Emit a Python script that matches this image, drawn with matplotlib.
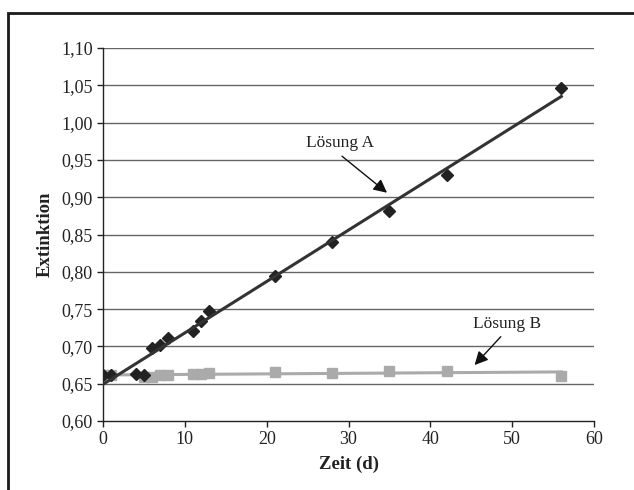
import numpy as np
import matplotlib.pyplot as plt
from matplotlib.patches import Rectangle

plt.rcParams['font.family'] = ['Liberation Serif', 'DejaVu Serif']

# Lösung A (diamonds)
zeit_a = [0, 1, 4, 5, 6, 7, 8, 11, 12, 13, 21, 28, 35, 42, 56]
ext_a = [0.662, 0.662, 0.663, 0.662, 0.698, 0.702, 0.711, 0.720, 0.734, 0.747,
         0.794, 0.840, 0.882, 0.930, 1.047]

# Lösung B (squares)
zeit_b = [0, 1, 5, 6, 7, 8, 11, 12, 13, 21, 28, 35, 42, 56]
ext_b = [0.662, 0.662, 0.659, 0.659, 0.662, 0.662, 0.663, 0.663, 0.664,
         0.666, 0.665, 0.667, 0.667, 0.661]

fig = plt.figure(figsize=(6.34, 4.9), dpi=100)
ax = fig.add_axes([0.1625, 0.1408, 0.7745, 0.7612])

# outer frame
fig.patches.append(Rectangle((8 / 634, -0.1), 1.1, 1 - 13 / 490 + 0.1,
                             transform=fig.transFigure, fill=False,
                             edgecolor='#1a1a1a', linewidth=2.0))

ax.set_xlim(0, 60)
ax.set_ylim(0.60, 1.10)
ax.set_xticks(range(0, 61, 10))
yt = np.round(np.arange(0.60, 1.101, 0.05), 2)
ax.set_yticks(yt)
ax.set_yticklabels([f"{v:.2f}".replace('.', ',') for v in yt])
for v in yt[1:]:
    ax.axhline(v, color='#666666', linewidth=1.0, zorder=0)

for s in ['top', 'right']:
    ax.spines[s].set_visible(False)
for s in ['left', 'bottom']:
    ax.spines[s].set_color('#222222')
    ax.spines[s].set_linewidth(1.0)
ax.tick_params(direction='out', length=4, width=1, colors='#222222',
               labelsize=13, labelcolor='#222222')

# trend lines
xs = np.array([0, 56])
pa = np.polyfit(zeit_a, ext_a, 1)
pb = np.polyfit(zeit_b, ext_b, 1)
ax.plot(zeit_b, ext_b, 's', color='#aaaaaa', markersize=7, zorder=2)
ax.plot(xs, np.polyval(pb, xs), color='#aaaaaa', linewidth=2.2, zorder=2)
ax.plot(zeit_a, ext_a, 'D', color='#222222', markersize=6, zorder=3)
ax.plot(xs, np.polyval(pa, xs), color='#333333', linewidth=2.2, zorder=3)

# labels with arrows
ax.text(29.0, 0.973, 'Lösung A', ha='center', va='center', fontsize=12.5,
        color='#222222')
ax.annotate('', xy=(34.7, 0.906), xytext=(29.2, 0.955),
            arrowprops=dict(arrowstyle='-|>', color='#111111', lw=1,
                            mutation_scale=20, shrinkA=0, shrinkB=0))
ax.text(49.4, 0.730, 'Lösung B', ha='center', va='center', fontsize=12.5,
        color='#222222')
ax.annotate('', xy=(45.4, 0.675), xytext=(48.6, 0.713),
            arrowprops=dict(arrowstyle='-|>', color='#111111', lw=1,
                            mutation_scale=20, shrinkA=0, shrinkB=0))

ax.set_xlabel('Zeit (d)', fontsize=13.5, fontweight='bold', color='#222222',
              labelpad=5)
ax.set_ylabel('Extinktion', fontsize=13.5, fontweight='bold', color='#222222',
              labelpad=5)

fig.savefig('out.png', dpi=100)
